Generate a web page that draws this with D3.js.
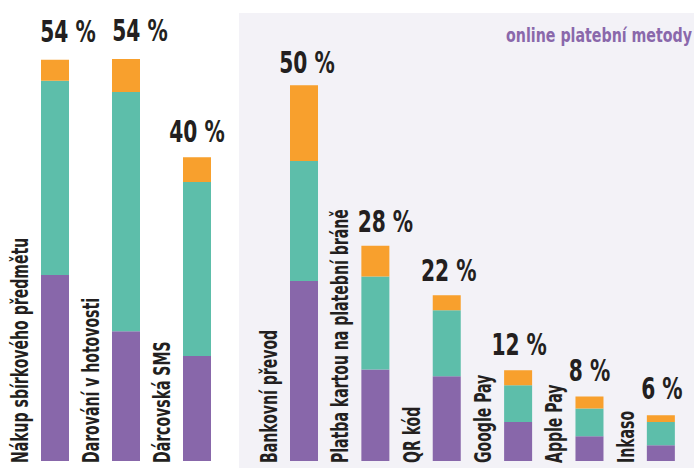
<!DOCTYPE html>
<html>
<head>
<meta charset="utf-8">
<script src="https://cdn.jsdelivr.net/npm/d3@7"></script>
<style>
  body { margin: 0; background: #fff; }
  text { font-family: "DejaVu Sans Condensed", "DejaVu Sans", sans-serif; }
</style>
</head>
<body>
<div id="canvas"></div>
<script>
// offline methods first, online methods second
let offlineCats = ["Nákup sbírkového předmětu", "Darování v hotovosti", "Dárcovská SMS"];
let onlineCats = ["Bankovní převod", "Platba kartou na platební bráně", "QR kód", "Google Pay", "Apple Pay", "Inkaso"];

// stacked segments (bottom to top)
let purpleVals = [24.8, 17.3, 14.0, 24.0, 12.2, 11.3, 5.2, 3.3, 2.1];
let tealVals   = [25.9, 31.9, 23.2, 16.0, 12.4, 8.8, 4.9, 3.7, 3.1];
let orangeVals = [2.8, 4.4, 3.3, 10.1, 4.1, 2.0, 2.0, 1.6, 0.9];

let totalLabels = ["54 %", "54 %", "40 %", "50 %", "28 %", "22 %", "12 %", "8 %", "6 %"];
let panelTitle = "online platební metody";

let width = 694;
let height = 468;

let colors = ["#8867aa", "#5dbeaa", "#f8a02d"];

var svg = d3.select("#canvas").append("svg")
    .attr("width", width)
    .attr("height", height);

// light panel behind the online methods
svg.append("rect")
    .attr("x", 239)
    .attr("y", 13)
    .attr("width", width - 239)
    .attr("height", height - 13)
    .attr("fill", "#f3f2f7");

// the original font is a narrow DIN, so squeeze DejaVu horizontally
svg.append("text")
    .attr("transform", "translate(692,42) scale(0.79,1)")
    .attr("text-anchor", "end")
    .attr("font-size", 20)
    .attr("font-weight", "bold")
    .attr("fill", "#8a68ab")
    .text(panelTitle);

let cats = offlineCats.concat(onlineCats);

// two band scales, one per group
let xOff = d3.scaleBand().domain(offlineCats).range([41, 211]).paddingInner(0.6056).paddingOuter(0);
let xOn = d3.scaleBand().domain(onlineCats).range([290, 675]).paddingInner(0.6056).paddingOuter(0);
let xPos = c => offlineCats.includes(c) ? xOff(c) : xOn(c);
let bw = xOff.bandwidth();

let yScale = d3.scaleLinear()
    .domain([0, 60])
    .range([461, 11]);

let rows = cats.map((c, i) => ({
    cat: c,
    purple: purpleVals[i],
    teal: tealVals[i],
    orange: orangeVals[i],
    label: totalLabels[i]
}));

let stack = d3.stack().keys(["purple", "teal", "orange"]);
let series = stack(rows);

svg.selectAll("g.layer")
    .data(series)
    .enter().append("g")
    .attr("class", "layer")
    .attr("fill", (d, i) => colors[i])
    .selectAll("rect")
    .data(d => d)
    .enter().append("rect")
    .attr("x", d => xPos(d.data.cat))
    .attr("y", d => yScale(d[1]))
    .attr("width", bw)
    .attr("height", d => yScale(d[0]) - yScale(d[1]));

// small nudges of the total labels, as in the original layout
let pctDx = [13, 14, 0, 3, 10, 2, 1, 0, 1];
let pctDy = [-18, -18, -15, -12, -14, -14, -15, -16, -16];

svg.selectAll("text.total")
    .data(rows)
    .enter().append("text")
    .attr("class", "total")
    .attr("transform", (d, i) => "translate(" + (xPos(d.cat) + bw / 2 + pctDx[i]) + "," +
        (yScale(d.purple + d.teal + d.orange) + pctDy[i]) + ") scale(0.75,1)")
    .attr("text-anchor", "middle")
    .attr("font-size", 30)
    .attr("font-weight", "bold")
    .attr("fill", "#231f20")
    .text(d => d.label);

// rotated category labels to the left of each bar
svg.selectAll("text.cat")
    .data(rows)
    .enter().append("text")
    .attr("class", "cat")
    .attr("transform", d => "translate(" + (xPos(d.cat) - 13) + ",463) rotate(-90) scale(0.68,1)")
    .attr("font-size", 23)
    .attr("font-weight", "bold")
    .attr("fill", "#231f20")
    .text(d => d.cat);
</script>
</body>
</html>
